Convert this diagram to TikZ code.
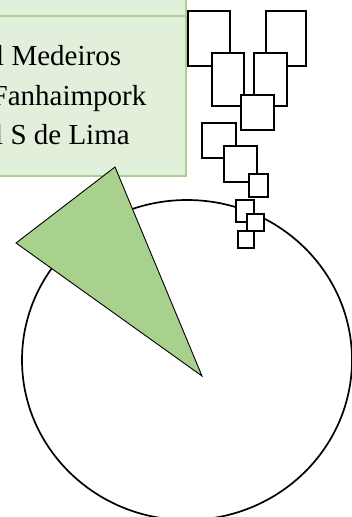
\documentclass[tikz,border=0pt]{standalone}
\usepackage{fontspec}
\setmainfont{Liberation Serif}
\definecolor{boxfill}{HTML}{E2EFDA}
\definecolor{boxline}{HTML}{A9D18E}
\definecolor{trifill}{HTML}{A9D18E}
\tikzset{
  greenbox/.style={fill=boxfill, draw=boxline, line width=1.5pt},
  sq/.style={fill=white, draw=black, line width=2.2pt},
  txt/.style={inner sep=0pt, anchor=base west, font=\fontsize{29}{35}\selectfont},
  ring/.style={fill=white, draw=black, line width=1.7pt},
  wedge/.style={fill=trifill, draw=black, line width=0.9pt, line join=miter}
}
\begin{document}
\begin{tikzpicture}[x=1pt,y=-1pt]
\useasboundingbox (0,0) rectangle (352,517);
% text boxes
\draw[greenbox] (-20,-20) rectangle (186,16);
\draw[greenbox] (-20,16) rectangle (186,176);
\node[txt] (t1) at (-4,65) {l Medeiros};
\node[txt] (t2) at (-8.5,105) {Fanhaimpork};
\node[txt] (t3) at (-5,144) {l S de Lima};
% circle
\draw[ring] (187,360) ellipse [x radius=165, y radius=160];
% wedge
\draw[wedge] (115,167) -- (16,243) -- (202,376) -- cycle;
% squares
\draw[sq] (188,11) rectangle (230,66);
\draw[sq] (266,11) rectangle (306,66);
\draw[sq] (212,53) rectangle (244,106);
\draw[sq] (254,53) rectangle (287,106);
\draw[sq] (241,95) rectangle (274,130);
\draw[sq] (202,123) rectangle (236,158);
\draw[sq] (224,146) rectangle (257,182);
\draw[sq] (249,174) rectangle (268,197);
\draw[sq] (236,200) rectangle (254,222);
\draw[sq] (247,214) rectangle (264,231);
\draw[sq] (238,231) rectangle (254,248);
\end{tikzpicture}
\end{document}
